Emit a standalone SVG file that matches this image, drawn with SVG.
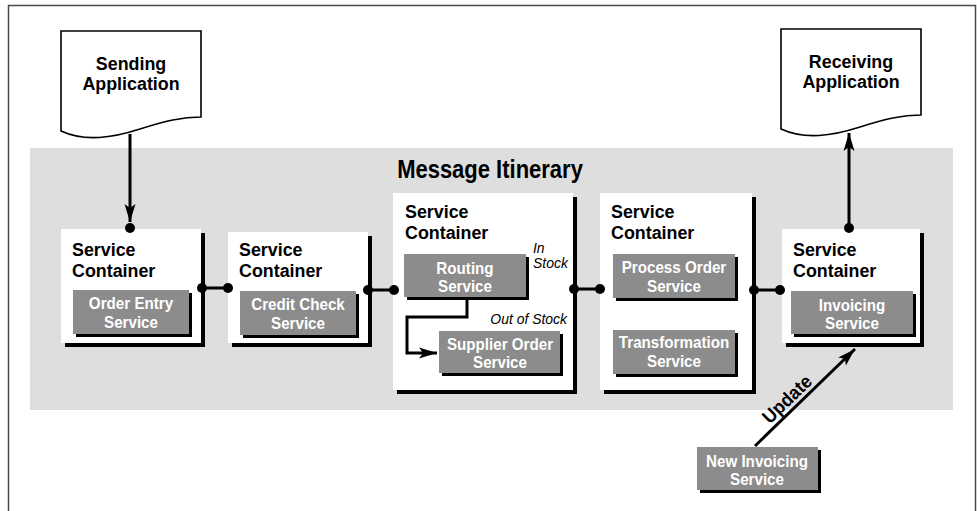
<svg xmlns="http://www.w3.org/2000/svg" width="977" height="511" viewBox="0 0 977 511">
  <style>
    .frame { fill: #ffffff; stroke: #4a4a4a; stroke-width: 1.5; }
    .band { fill: #dedede; }
    .doc { fill: #ffffff; stroke: #000000; stroke-width: 1.6; }
    .box { fill: #ffffff; }
    .shadow { fill: #000000; }
    .svc { fill: #8c8c8c; }
    .head { font-family: "Liberation Sans", Arial, sans-serif; font-weight: bold; font-size: 19px; fill: #000000; }
    .title { font-family: "Liberation Sans", Arial, sans-serif; font-weight: bold; font-size: 25px; fill: #000000; text-anchor: middle; }
    .svct { font-family: "Liberation Sans", Arial, sans-serif; font-weight: bold; font-size: 16.5px; fill: #ffffff; text-anchor: middle; }
    .note { font-family: "Liberation Sans", Arial, sans-serif; font-style: italic; font-size: 15px; fill: #000000; }
    .mid { text-anchor: middle; }
    .wire { fill: none; stroke: #000000; stroke-width: 3; }
    .dot { fill: #000000; }
  </style>
  <defs>
    <marker id="arrow" markerUnits="userSpaceOnUse" markerWidth="20" markerHeight="12" viewBox="0 0 20 12" refX="18" refY="6" orient="auto">
      <path d="M0,0.5 L18,6 L0,11.5 L4,6 Z" fill="#000000"/>
    </marker>
  </defs>

  <!-- page frame and itinerary band; labels use a narrowed bold face -->
  <rect class="frame" x="8.5" y="5.5" width="967" height="530"/>
  <rect class="band" x="30" y="148" width="923" height="262"/>
  <text class="title" transform="translate(490,178) scale(0.88,1)">Message Itinerary</text>

  <!-- applications -->
  <g id="sending-application">
    <path class="doc" d="M61,31 H201 V117 C182,117 165,121 140,129 C112,138 85,142 61,131 Z"/>
    <text class="head mid" transform="translate(131,70) scale(0.94,1)">Sending</text>
    <text class="head mid" transform="translate(131,90) scale(0.94,1)">Application</text>
  </g>
  <g id="receiving-application">
    <path class="doc" d="M781,29 H921 V115 C902,115 885,119 860,127 C832,136 805,140 781,129 Z"/>
    <text class="head mid" transform="translate(851,68) scale(0.94,1)">Receiving</text>
    <text class="head mid" transform="translate(851,88) scale(0.94,1)">Application</text>
  </g>

  <!-- service containers -->
  <g id="container-order-entry">
    <rect class="shadow" x="65" y="233" width="140" height="114"/>
    <rect class="box" x="61" y="229" width="140" height="114"/>
    <text class="head" transform="translate(72,256) scale(0.94,1)">Service</text>
    <text class="head" transform="translate(72,277) scale(0.94,1)">Container</text>
    <g id="order-entry-service">
      <rect class="shadow" x="76" y="293" width="116" height="44"/>
      <rect class="svc" x="73" y="290" width="116" height="44"/>
      <text class="svct" transform="translate(131,309) scale(0.92,1)">Order Entry</text>
      <text class="svct" transform="translate(131,328) scale(0.92,1)">Service</text>
    </g>
  </g>

  <g id="container-credit-check">
    <rect class="shadow" x="232" y="236" width="140" height="111"/>
    <rect class="box" x="228" y="232" width="140" height="111"/>
    <text class="head" transform="translate(239,256) scale(0.94,1)">Service</text>
    <text class="head" transform="translate(239,277) scale(0.94,1)">Container</text>
    <g id="credit-check-service">
      <rect class="shadow" x="243" y="294" width="116" height="44"/>
      <rect class="svc" x="240" y="291" width="116" height="44"/>
      <text class="svct" transform="translate(298,310) scale(0.92,1)">Credit Check</text>
      <text class="svct" transform="translate(298,329) scale(0.92,1)">Service</text>
    </g>
  </g>

  <g id="container-routing">
    <rect class="shadow" x="397" y="197" width="180" height="197"/>
    <rect class="box" x="393" y="193" width="180" height="197"/>
    <text class="head" transform="translate(405,218) scale(0.94,1)">Service</text>
    <text class="head" transform="translate(405,239) scale(0.94,1)">Container</text>
    <g id="routing-service">
      <rect class="shadow" x="407" y="257" width="122" height="43"/>
      <rect class="svc" x="404" y="254" width="122" height="43"/>
      <text class="svct" transform="translate(465,274) scale(0.92,1)">Routing</text>
      <text class="svct" transform="translate(465,292) scale(0.92,1)">Service</text>
    </g>
    <g id="supplier-order-service">
      <rect class="shadow" x="442" y="334" width="121" height="42"/>
      <rect class="svc" x="439" y="331" width="121" height="42"/>
      <text class="svct" transform="translate(500,350) scale(0.92,1)">Supplier Order</text>
      <text class="svct" transform="translate(500,368) scale(0.92,1)">Service</text>
    </g>
  </g>

  <g id="container-process-order">
    <rect class="shadow" x="604" y="197" width="152" height="197"/>
    <rect class="box" x="600" y="193" width="152" height="197"/>
    <text class="head" transform="translate(611,218) scale(0.94,1)">Service</text>
    <text class="head" transform="translate(611,239) scale(0.94,1)">Container</text>
    <g id="process-order-service">
      <rect class="shadow" x="616" y="257" width="122" height="44"/>
      <rect class="svc" x="613" y="254" width="122" height="44"/>
      <text class="svct" transform="translate(674,273) scale(0.92,1)">Process Order</text>
      <text class="svct" transform="translate(674,292) scale(0.92,1)">Service</text>
    </g>
    <g id="transformation-service">
      <rect class="shadow" x="616" y="333" width="122" height="44"/>
      <rect class="svc" x="613" y="330" width="122" height="44"/>
      <text class="svct" transform="translate(674,348) scale(0.92,1)">Transformation</text>
      <text class="svct" transform="translate(674,367) scale(0.92,1)">Service</text>
    </g>
  </g>

  <g id="container-invoicing">
    <rect class="shadow" x="786" y="233" width="138" height="114"/>
    <rect class="box" x="782" y="229" width="138" height="114"/>
    <text class="head" transform="translate(793,256) scale(0.94,1)">Service</text>
    <text class="head" transform="translate(793,277) scale(0.94,1)">Container</text>
    <g id="invoicing-service">
      <rect class="shadow" x="794" y="294" width="122" height="43"/>
      <rect class="svc" x="791" y="291" width="122" height="43"/>
      <text class="svct" transform="translate(852,311) scale(0.92,1)">Invoicing</text>
      <text class="svct" transform="translate(852,329) scale(0.92,1)">Service</text>
    </g>
  </g>

  <g id="new-invoicing-service">
    <rect class="shadow" x="700" y="450" width="121" height="43"/>
    <rect class="svc" x="697" y="447" width="121" height="43"/>
    <text class="svct" transform="translate(757,467) scale(0.92,1)">New Invoicing</text>
    <text class="svct" transform="translate(757,485) scale(0.92,1)">Service</text>
  </g>

  <!-- connectors -->
  <g id="connectors">
    <line class="wire" x1="130" y1="134" x2="130" y2="222" marker-end="url(#arrow)"/>
    <circle class="dot" cx="130" cy="228" r="5"/>

    <line class="wire" x1="202" y1="288" x2="228" y2="288"/>
    <circle class="dot" cx="202" cy="288" r="5"/>
    <circle class="dot" cx="228" cy="288" r="5"/>

    <line class="wire" x1="368" y1="290" x2="394" y2="290"/>
    <circle class="dot" cx="368" cy="290" r="5"/>
    <circle class="dot" cx="394" cy="290" r="5"/>

    <line class="wire" x1="574" y1="289" x2="600" y2="289"/>
    <circle class="dot" cx="574" cy="289" r="5"/>
    <circle class="dot" cx="600" cy="289" r="5"/>

    <line class="wire" x1="754" y1="290" x2="780" y2="290"/>
    <circle class="dot" cx="754" cy="290" r="5"/>
    <circle class="dot" cx="780" cy="290" r="5"/>

    <path class="wire" d="M467,297 V317 H407 V353 H437" marker-end="url(#arrow)"/>

    <line class="wire" x1="849" y1="228" x2="849" y2="133" marker-end="url(#arrow)"/>
    <circle class="dot" cx="849" cy="228" r="5"/>

    <line class="wire" x1="755" y1="446" x2="855" y2="349" marker-end="url(#arrow)"/>
    <text class="head mid" transform="translate(791.6,403.8) rotate(-44) scale(0.94,1)">Update</text>

    <text class="note" transform="translate(533,253) scale(0.93,1)">In</text>
    <text class="note" transform="translate(533,268) scale(0.93,1)">Stock</text>
    <text class="note" text-anchor="end" transform="translate(567,324) scale(0.93,1)">Out of Stock</text>
  </g>
</svg>
